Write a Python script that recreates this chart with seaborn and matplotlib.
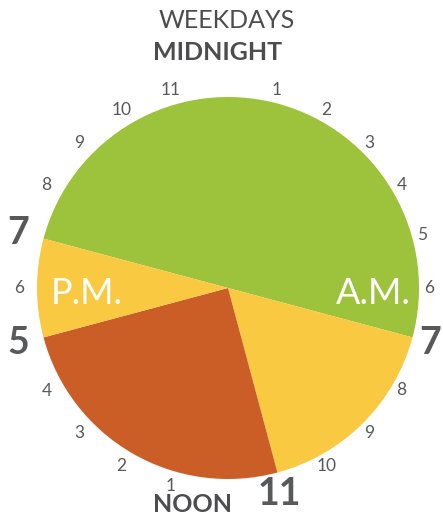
import numpy as np
import matplotlib
matplotlib.use("Agg")
import matplotlib.pyplot as plt
import seaborn as sns

# Weekday schedule on a 24-hour clock (midnight at top, clockwise)
seg_start = [19, 7, 11, 17]          # hour of day where each block starts
seg_hours = [12, 4, 6, 2]            # length of each block in hours
seg_colors = ["#9DC23B", "#F9C941", "#CB5D27", "#F9C941"]

am_hours = list(range(1, 12))
pm_hours = list(range(1, 12))
big_hours = [7, 11, 17, 19]          # block boundaries drawn large

title = "WEEKDAYS"
top_label = "MIDNIGHT"
bottom_label = "NOON"
half_labels = ["A.M.", "P.M."]

sns.set_theme(style="white")
plt.rcParams["font.family"] = ["Lato", "DejaVu Sans"]

W, H = 443, 518
fig = plt.figure(figsize=(W / 100, H / 100), dpi=100)
ax = fig.add_axes([0, 0, 1, 1])

cx, cy, r = 228, H - 288, 191
# matplotlib angle of the first block's start (clock angle -> math angle)
start = 90 - seg_start[0] * 15
ax.pie(seg_hours, colors=seg_colors, startangle=start, counterclock=False,
       center=(cx, cy), radius=r, wedgeprops=dict(linewidth=0))

grey = "#58595B"
lx = cx - 4


def ring_pos(hour24, rad):
    th = np.deg2rad(hour24 * 15)
    return lx + rad * np.sin(th), cy + rad * np.cos(th)


for h in am_hours + [x + 12 for x in pm_hours]:
    big = h in big_hours
    x, y = ring_pos(h, 213 if big else 205)
    ax.text(x, y, str(h if h < 12 else h - 12), ha="center", va="center",
            color=grey, fontsize=27 if big else 12.5,
            fontweight="bold" if big else "normal")

ax.text(227, H - 20, title, ha="center", va="center", color="#4d4d4f",
        fontsize=18, fontweight="normal")
ax.text(218, H - 52, top_label, ha="center", va="center", color="#4d4d4f",
        fontsize=18, fontweight="bold")
ax.text(193, H - 504, bottom_label, ha="center", va="center", color="#4d4d4f",
        fontsize=18, fontweight="bold")

ax.text(373, H - 294, half_labels[0], ha="center", va="center", color="white",
        fontsize=26, fontweight="normal")
ax.text(87, H - 294, half_labels[1], ha="center", va="center", color="white",
        fontsize=26, fontweight="normal")

ax.set_xlim(0, W)
ax.set_ylim(0, H)
ax.set_aspect("equal")
ax.axis("off")

fig.savefig("out.png", dpi=100)
